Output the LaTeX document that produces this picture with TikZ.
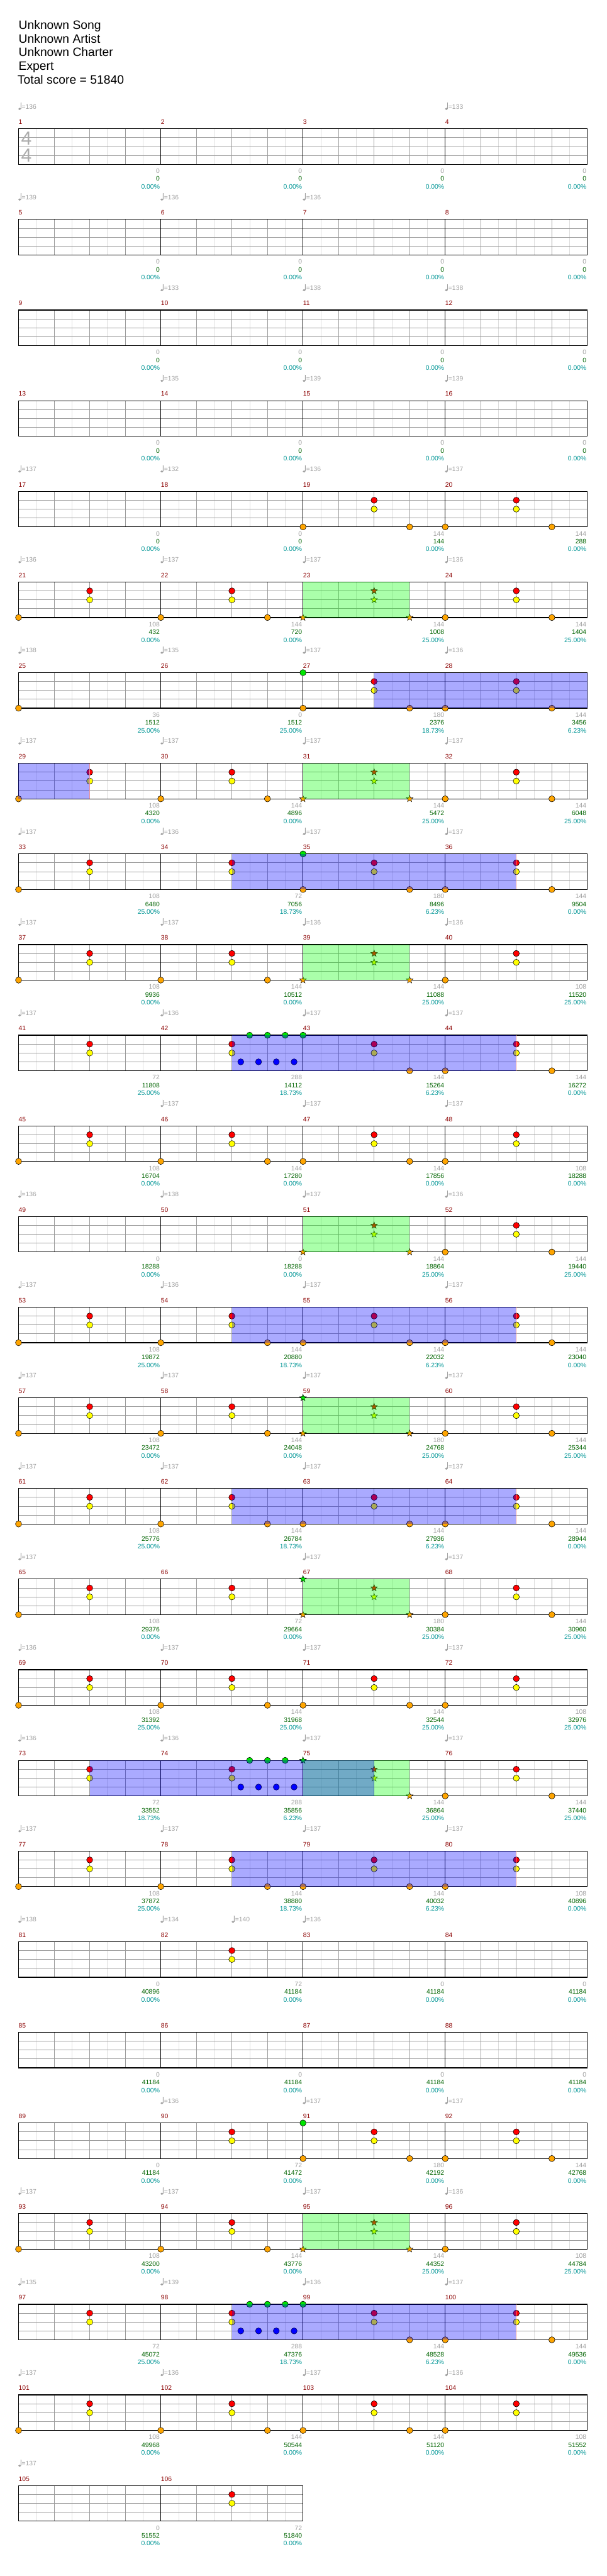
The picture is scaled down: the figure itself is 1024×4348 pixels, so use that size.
\documentclass[tikz,border=0pt]{standalone}
\usepackage{fontspec}
\setmainfont{Liberation Sans}
\usetikzlibrary{shapes.geometric}

\definecolor{barred}{RGB}{139,0,0}
\definecolor{softgray}{RGB}{160,160,160}
\definecolor{totalgreen}{RGB}{0,100,0}
\definecolor{pctteal}{RGB}{0,150,150}
\definecolor{gridlight}{RGB}{222,222,222}
\definecolor{gridmid}{RGB}{155,155,155}
\definecolor{fretG}{RGB}{0,230,0}
\definecolor{fretR}{RGB}{255,0,0}
\definecolor{fretY}{RGB}{255,255,0}
\definecolor{fretB}{RGB}{0,0,255}
\definecolor{fretO}{RGB}{255,165,0}
\definecolor{spgreen}{RGB}{0,255,0}
\definecolor{edgepink}{RGB}{240,150,150}

% bar #1, beat #2 -> \gx, and top of its staff -> \gy
\newcommand{\measpos}[2]{%
  \pgfmathtruncatemacro{\mrow}{(#1-1)/4}%
  \pgfmathtruncatemacro{\mcol}{mod(#1-1,4)}%
  \pgfmathsetmacro{\gx}{31.3+240*\mcol+60*#2}%
  \pgfmathsetmacro{\gy}{217.3+153*\mrow}}

\tikzset{
  eighthline/.style={draw=gridlight, line width=0.7pt},
  beatline/.style={draw=gridmid, line width=0.8pt},
  laneline/.style={draw=gridmid, line width=1pt},
  barline/.style={draw=black, line width=0.7pt},
  staffframe/.style={draw=black, line width=1.3pt},
  gem/.style={draw=black, line width=0.6pt},
  starnote/.style={star, star points=5, star point ratio=2.4,
    minimum size=12pt, inner sep=0pt, draw=black, line width=0.5pt},
  smalltext/.style={font=\fontsize{11}{13}\selectfont, inner sep=0pt},
  barnum/.style={smalltext, text=barred, anchor=base west},
  tempotext/.style={smalltext, text=softgray, anchor=base west},
  tempomark/.style={fill=softgray, draw=softgray, line width=0.6pt},
  ptsnum/.style={smalltext, text=softgray, anchor=base east},
  totnum/.style={smalltext, text=totalgreen, anchor=base east},
  pctnum/.style={smalltext, text=pctteal, anchor=base east},
  headline/.style={font=\fontsize{20.5}{24}\selectfont, anchor=base west, inner sep=0pt},
  timesig/.style={font=\fontsize{32}{32}\selectfont, text=gray!65, inner sep=0pt},
  spfill/.style={fill=spgreen, fill opacity=0.333},
  solofill/.style={fill=blue, fill opacity=0.333},
  soloedge/.style={draw=edgepink, line width=0.8pt}
}

% one line of the chart: row, number of bars
\newcommand{\staff}[2]{%
  \pgfmathsetmacro{\sy}{217.3+153*#1}%
  \pgfmathsetmacro{\sx}{31.3+240*#2}%
  \pgfmathtruncatemacro{\nl}{8*#2-1}%
  \pgfmathtruncatemacro{\nb}{#2-1}%
  \foreach \i in {1,3,...,\nl}
    \draw[eighthline] ({31.3+30*\i},\sy) -- ++(0,60);
  \foreach \j in {1,2,3}
    \draw[laneline] (31.3,{\sy+15*\j}) -- (\sx,{\sy+15*\j});
  \foreach \i in {2,4,...,\nl}
    \draw[beatline] ({31.3+30*\i},\sy) -- ++(0,60);
  \foreach \k in {1,...,\nb}
    \draw[barline] ({31.3+240*\k},\sy) -- ++(0,60);
  \draw[staffframe] (31.3,\sy) rectangle (\sx,{\sy+60});
  \foreach \k in {0,...,\nb}{
    \pgfmathtruncatemacro{\bn}{4*#1+\k+1}
    \node[barnum] (bar\bn) at ({31.3+240*\k},{\sy-7.6}) {\bn};}}

\newcommand{\gem}[4]{\measpos{#1}{#2}\draw[gem, fill=#4] (\gx,{\gy+15*#3}) circle[radius=5.2];}
\newcommand{\stargem}[4]{\measpos{#1}{#2}\node[starnote, fill=#4] (star-#1-#2-#3) at (\gx,{\gy+15*#3}) {};}
\newcommand{\onote}[2]{\gem{#1}{#2}{4}{fretO}}
\newcommand{\gnote}[2]{\gem{#1}{#2}{0}{fretG}}
\newcommand{\bnote}[2]{\gem{#1}{#2}{3}{fretB}}
\newcommand{\rynote}[2]{\gem{#1}{#2}{1}{fretR}\gem{#1}{#2}{2}{fretY}}
\newcommand{\ostar}[2]{\stargem{#1}{#2}{4}{fretO}}
\newcommand{\gstar}[2]{\stargem{#1}{#2}{0}{fretG}}
\newcommand{\rystar}[2]{\stargem{#1}{#2}{1}{fretR}\stargem{#1}{#2}{2}{fretY}}

\newcommand{\spzone}[3]{%
  \measpos{#1}{#2}\let\xa\gx
  \measpos{#1}{#3}%
  \fill[spfill] (\xa,\gy) rectangle (\gx,{\gy+60});}
\newcommand{\solozone}[4]{%
  \measpos{#1}{#2}\let\xa\gx
  \measpos{#1}{#3}%
  \fill[solofill] (\xa,\gy) rectangle (\gx,{\gy+60});
  \ifnum#4=1 \draw[soloedge] (\gx,\gy) -- (\gx,{\gy+60});\fi}

\newcommand{\bpm}[3]{%
  \measpos{#1}{#2}%
  \fill[tempomark] ({\gx+1.9},{\gy-33.5}) ellipse[x radius=1.9, y radius=1.5];
  \draw[tempomark] ({\gx+3.5},{\gy-33.8}) -- ({\gx+3.5},{\gy-44});
  \node[tempotext] (bpm#1-#2) at ({\gx+5.3},{\gy-33.6}) {=#3};}

\newcommand{\tally}[4]{%
  \measpos{#1}{4}%
  \node[ptsnum] (pts#1) at ({\gx-1.5},{\gy+75.2}) {#2};
  \node[totnum] (tot#1) at ({\gx-1.5},{\gy+88.4}) {#3};
  \node[pctnum] (pct#1) at ({\gx-1.5},{\gy+101.6}) {#4\%};}

\begin{document}
\begin{tikzpicture}[x=1pt,y=-1pt]
  \useasboundingbox (0,0) rectangle (1024,4348);
  \fill[white] (0,0) rectangle (1024,4348);

  \node[headline] (song) at (31.3,49.3) {Unknown Song};
  \node[headline] (artist) at (31.3,72.3) {Unknown Artist};
  \node[headline] (charter) at (31.3,95.3) {Unknown Charter};
  \node[headline] (level) at (31.3,118.3) {Expert};
  \node[headline] (score) at (29.5,141.3) {Total score = 51840};

  % staves
  \foreach \r in {0,...,25} {\staff{\r}{4}}
  \staff{26}{2}
  \node[timesig] (sigtop) at (44.5,233.3) {4};
  \node[timesig] (sigbottom) at (44.5,262.3) {4};

  % gems
  \foreach \m in {19,20,21,22,24,27,28,29,30,32,33,34,35,36,37,38,40,41,42,43,44,
      45,46,47,48,52,53,54,55,56,57,58,60,61,62,63,64,65,66,68,69,70,71,72,73,74,
      76,77,78,79,80,82,90,91,92,93,94,96,97,98,99,100,101,102,103,104,106}
    {\rynote{\m}{2}}
  \foreach \m in {19,20,21,22,24,25,27,28,29,30,32,33,35,36,37,38,40,44,45,46,47,
      48,52,53,54,55,56,57,58,60,61,62,63,64,65,68,69,70,71,72,76,77,78,79,80,91,
      92,93,94,96,100,101,102,103,104}
    {\onote{\m}{0}}
  \foreach \m in {19,20,22,24,27,28,30,32,35,36,38,43,44,46,47,52,54,55,56,58,60,
      62,63,64,68,70,71,76,78,79,91,92,94,99,100,102,103}
    {\onote{\m}{3}}
  \foreach \m in {27,35,43,91,99} {\gnote{\m}{0}}
  \foreach \m in {42,74,98} {
    \foreach \b in {2.5,3,3.5} {\gnote{\m}{\b}}
    \foreach \b in {2.25,2.75,3.25,3.75} {\bnote{\m}{\b}}}

  % star power gems
  \foreach \m in {23,31,39,51,59,67,75,95} {\rystar{\m}{2}\ostar{\m}{3}}
  \foreach \m in {23,31,39,51,59,67,95} {\ostar{\m}{0}}
  \foreach \m in {59,67,75} {\gstar{\m}{0}}

  % phrases
  \foreach \m in {23,31,39,51,59,67,75,95} {\spzone{\m}{0}{3}}
  \solozone{27}{2}{8}{0}
  \solozone{29}{0}{2}{1}
  \foreach \m in {34,42,54,62,78,98} {\solozone{\m}{2}{10}{1}}
  \solozone{73}{2}{10}{0}

  % tempo
  \foreach \m/\v in {1/136,4/133,5/139,6/136,7/136,10/133,11/138,12/138,
      14/135,15/139,16/139,17/137,18/132,19/136,20/137,21/136,22/137,23/137,
      24/136,25/138,26/135,27/137,28/136,29/137,30/137,31/137,32/137,33/137,
      34/136,35/137,36/137,37/137,38/137,39/136,40/136,41/137,42/136,43/137,
      44/137,46/137,47/137,48/137,49/136,50/138,51/137,52/136,53/137,54/136,
      55/137,56/137,57/137,58/137,59/137,60/137,61/137,62/137,63/137,64/137,
      65/137,67/137,68/137,69/136,70/137,71/137,72/137,73/136,74/136,75/137,
      76/137,77/137,78/137,79/137,80/137,81/138,82/134,83/136,90/136,91/137,
      92/137,93/137,94/137,95/137,96/136,97/135,98/139,99/136,100/137,101/137,
      102/136,103/137,104/136,105/137}
    {\bpm{\m}{0}{\v}}
  \bpm{82}{2}{140}

  % score per bar
  \foreach \m in {1,...,16} {\tally{\m}{0}{0}{0.00}}
  \foreach \m in {85,...,88} {\tally{\m}{0}{41184}{0.00}}
  \foreach \m/\pts/\tot/\pc in {17/0/0/0.00,18/0/0/0.00,19/144/144/0.00,20/144/288/0.00,
      21/108/432/0.00,22/144/720/0.00,23/144/1008/25.00,24/144/1404/25.00,
      25/36/1512/25.00,26/0/1512/25.00,27/180/2376/18.73,28/144/3456/6.23,
      29/108/4320/0.00,30/144/4896/0.00,31/144/5472/25.00,32/144/6048/25.00,
      33/108/6480/25.00,34/72/7056/18.73,35/180/8496/6.23,36/144/9504/0.00,
      37/108/9936/0.00,38/144/10512/0.00,39/144/11088/25.00,40/108/11520/25.00,
      41/72/11808/25.00,42/288/14112/18.73,43/144/15264/6.23,44/144/16272/0.00,
      45/108/16704/0.00,46/144/17280/0.00,47/144/17856/0.00,48/108/18288/0.00,
      49/0/18288/0.00,50/0/18288/0.00,51/144/18864/25.00,52/144/19440/25.00,
      53/108/19872/25.00,54/144/20880/18.73,55/144/22032/6.23,56/144/23040/0.00,
      57/108/23472/0.00,58/144/24048/0.00,59/180/24768/25.00,60/144/25344/25.00,
      61/108/25776/25.00,62/144/26784/18.73,63/144/27936/6.23,64/144/28944/0.00,
      65/108/29376/0.00,66/72/29664/0.00,67/180/30384/25.00,68/144/30960/25.00,
      69/108/31392/25.00,70/144/31968/25.00,71/144/32544/25.00,72/108/32976/25.00,
      73/72/33552/18.73,74/288/35856/6.23,75/144/36864/25.00,76/144/37440/25.00,
      77/108/37872/25.00,78/144/38880/18.73,79/144/40032/6.23,80/108/40896/0.00,
      81/0/40896/0.00,82/72/41184/0.00,83/0/41184/0.00,84/0/41184/0.00,
      89/0/41184/0.00,90/72/41472/0.00,91/180/42192/0.00,92/144/42768/0.00,
      93/108/43200/0.00,94/144/43776/0.00,95/144/44352/25.00,96/108/44784/25.00,
      97/72/45072/25.00,98/288/47376/18.73,99/144/48528/6.23,100/144/49536/0.00,
      101/108/49968/0.00,102/144/50544/0.00,103/144/51120/0.00,104/108/51552/0.00,
      105/0/51552/0.00,106/72/51840/0.00}
    {\tally{\m}{\pts}{\tot}{\pc}}
\end{tikzpicture}
\end{document}
